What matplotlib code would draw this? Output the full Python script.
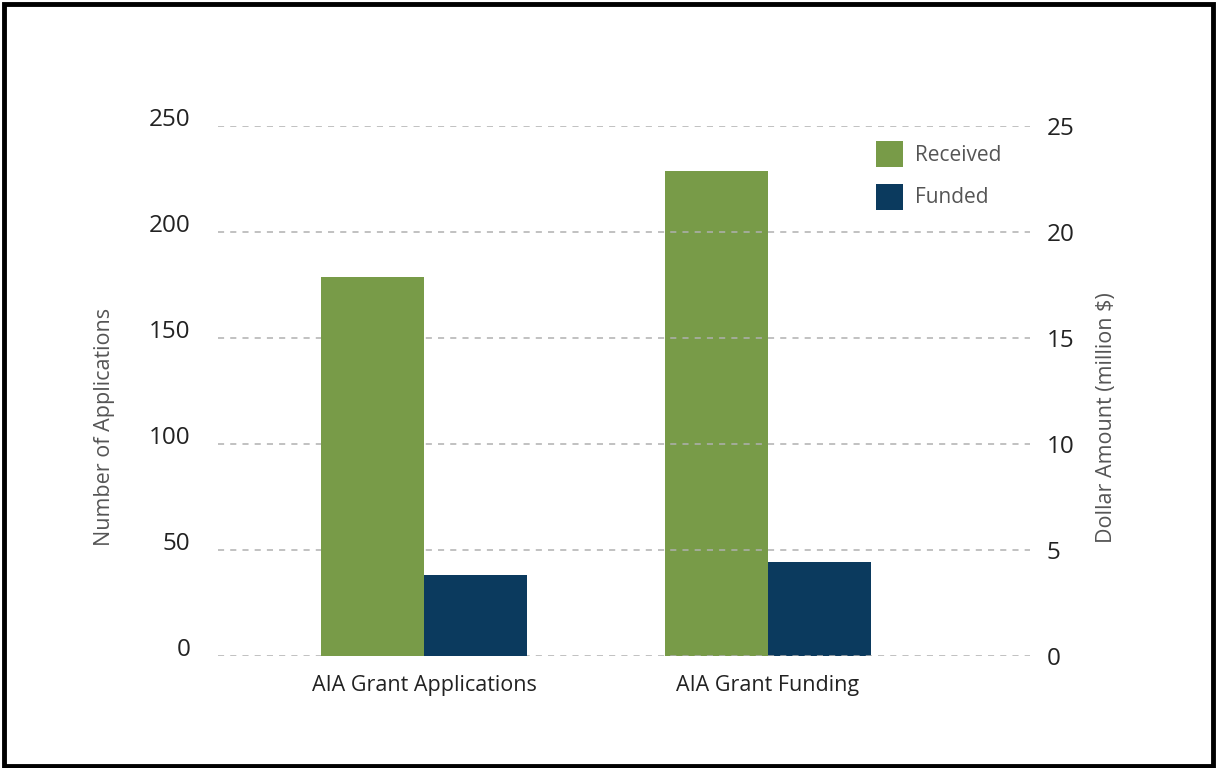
import matplotlib
matplotlib.use("Agg")
import matplotlib.pyplot as plt
import matplotlib.transforms as mtransforms
from matplotlib.patches import Rectangle, Patch
import numpy as np

categories = ["AIA Grant Applications", "AIA Grant Funding"]
series_names = ["Received", "Funded"]
applications = [179, 38]          # number of applications (left axis)
funding = [22.9, 4.45]            # million $ (right axis)
left_ticks = [0, 50, 100, 150, 200, 250]
right_ticks = [0, 5, 10, 15, 20, 25]

green = "#789B48"
navy = "#0B3A5E"
grid_c = "#B0B0B0"
text_c = "#222222"
label_c = "#555555"

plt.rcParams['font.family'] = ['Open Sans', 'DejaVu Sans']

fig = plt.figure(figsize=(12.17, 7.68), dpi=100)
ax = fig.add_axes([218/1217, 1-656/768, (1030-218)/1217, (656-126)/768])
ax2 = ax.twinx()

x = np.arange(len(categories))
w = 0.3
ax.bar(x[0] - w/2, applications[0], w, color=green, zorder=3)
ax.bar(x[0] + w/2, applications[1], w, color=navy, zorder=3)
ax2.bar(x[1] - w/2, funding[0], w, color=green, zorder=3)
ax2.bar(x[1] + w/2, funding[1], w, color=navy, zorder=3)

ax.set_xlim(-0.599, 1.762)
ax.set_ylim(0, 250)
ax2.set_ylim(0, 25)
ax.set_yticks(left_ticks)
ax2.set_yticks(right_ticks)
ax.set_xticks(x)
ax.set_xticklabels(categories, fontsize=15.5, color=text_c)

for a in (ax, ax2):
    for s in a.spines.values():
        s.set_visible(False)
    a.tick_params(length=0)
ax.set_zorder(2)
ax.patch.set_visible(False)
ax2.set_zorder(1)

ax.yaxis.grid(True, linestyle=(0, (4, 4)), color=grid_c, linewidth=1.1, zorder=0)
ax.tick_params(axis='y', pad=20, labelsize=17.5, labelcolor=text_c)
ax.tick_params(axis='x', pad=14)
ax2.tick_params(axis='y', pad=12, labelsize=17.5, labelcolor=text_c)

# left tick labels sit a bit above the gridlines
off = mtransforms.ScaledTranslation(0, 9/100, fig.dpi_scale_trans)
for lbl in ax.get_yticklabels():
    lbl.set_transform(lbl.get_transform() + off)

ax.set_ylabel("Number of Applications", fontsize=15.5, color=label_c)
ax.yaxis.set_label_coords((115-218)/812, (656-427)/530)
ax2.set_ylabel("Dollar Amount (million $)", fontsize=15.5, color=label_c, rotation=90)
ax2.yaxis.set_label_coords((1096-218)/812, (656-418)/530)

handles = [Patch(facecolor=green), Patch(facecolor=navy)]
leg = ax.legend(handles, series_names, loc='upper left',
                bbox_to_anchor=((857-218)/812, 1-(122-126)/530),
                frameon=False, fontsize=15, handlelength=1.3, handleheight=1.55,
                labelspacing=0.8, handletextpad=0.6)
for t in leg.get_texts():
    t.set_color(label_c)

fig.patches.append(Rectangle((4/1217, 2/768), 1-8/1217, 1-6/768, transform=fig.transFigure,
                             fill=False, edgecolor='black', linewidth=3.5))

fig.savefig("out.png", dpi=100, facecolor='white')
